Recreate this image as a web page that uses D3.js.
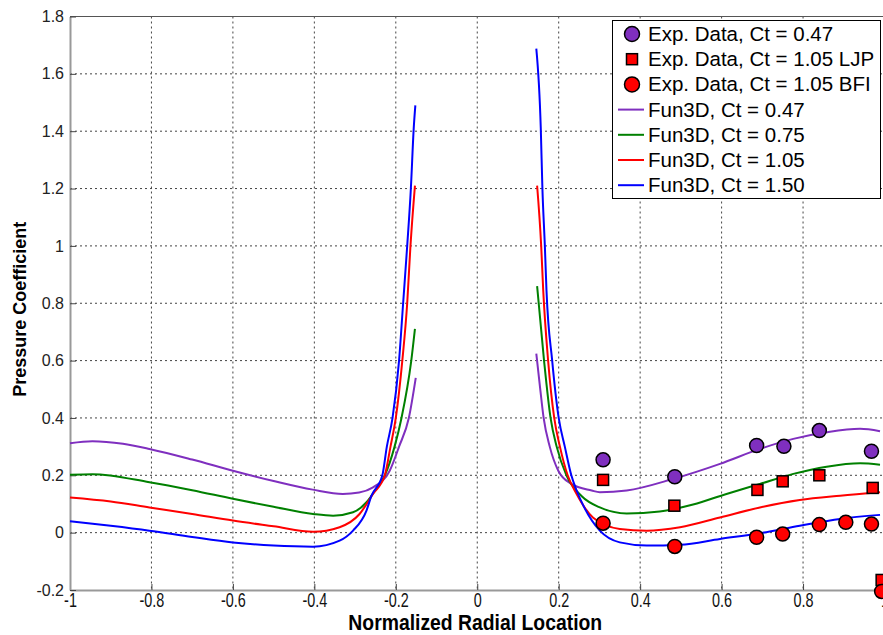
<!DOCTYPE html>
<html>
<head>
<meta charset="utf-8">
<script src="https://cdn.jsdelivr.net/npm/d3@7"></script>
<style>
  body { margin: 0; background: #fff; }
  svg text { font-family: "Liberation Sans", Arial, sans-serif; }
</style>
</head>
<body>
<div id="chart"></div>
<script>
// Fun3D curves (left and right of the hub)
var purpleLx = [-1, -0.945, -0.87, -0.805, -0.7, -0.6, -0.5, -0.404, -0.33, -0.29, -0.256, -0.215, -0.192, -0.168, -0.151];
var purpleLy = [0.312, 0.319, 0.31, 0.292, 0.255, 0.216, 0.18, 0.15, 0.135, 0.14, 0.158, 0.216, 0.3, 0.4, 0.54];
var greenLx = [-1, -0.945, -0.805, -0.7, -0.6, -0.5, -0.403, -0.354, -0.305, -0.272, -0.245, -0.227, -0.203, -0.186, -0.162, -0.153];
var greenLy = [0.202, 0.204, 0.176, 0.148, 0.118, 0.09, 0.065, 0.059, 0.071, 0.106, 0.16, 0.2, 0.3, 0.4, 0.6, 0.711];
var redLx = [-1, -0.9, -0.805, -0.7, -0.6, -0.5, -0.403, -0.338, -0.289, -0.256, -0.227, -0.213, -0.2, -0.184, -0.172, -0.164, -0.153];
var redLy = [0.123, 0.109, 0.088, 0.065, 0.042, 0.022, 0.003, 0.019, 0.065, 0.135, 0.2, 0.3, 0.4, 0.6, 0.8, 1.0, 1.21];
var blueLx = [-1, -0.9, -0.805, -0.7, -0.6, -0.5, -0.403, -0.338, -0.305, -0.272, -0.26, -0.233, -0.222, -0.208, -0.192, -0.182, -0.172, -0.163, -0.156, -0.152];
var blueLy = [0.04, 0.024, 0.007, -0.015, -0.034, -0.045, -0.049, -0.028, 0.007, 0.077, 0.128, 0.2, 0.3, 0.4, 0.6, 0.8, 1.0, 1.2, 1.41, 1.49];

var purpleRx = [0.145, 0.155, 0.163, 0.178, 0.199, 0.231, 0.281, 0.301, 0.367, 0.48, 0.596, 0.694, 0.776, 0.858, 0.94, 0.989];
var purpleRy = [0.624, 0.496, 0.4, 0.3, 0.216, 0.17, 0.147, 0.141, 0.147, 0.187, 0.24, 0.292, 0.327, 0.35, 0.362, 0.354];
var greenRx = [0.147, 0.164, 0.18, 0.195, 0.219, 0.256, 0.301, 0.367, 0.448, 0.53, 0.612, 0.694, 0.776, 0.858, 0.94, 0.989];
var greenRy = [0.86, 0.6, 0.4, 0.3, 0.2, 0.128, 0.088, 0.067, 0.074, 0.098, 0.135, 0.17, 0.205, 0.23, 0.242, 0.237];
var redRx = [0.147, 0.157, 0.162, 0.174, 0.189, 0.203, 0.222, 0.244, 0.284, 0.35, 0.416, 0.498, 0.596, 0.694, 0.792, 0.891, 0.989];
var redRy = [1.21, 1.0, 0.845, 0.6, 0.4, 0.3, 0.2, 0.135, 0.053, 0.013, 0.007, 0.019, 0.053, 0.088, 0.114, 0.129, 0.141];
var blueRx = [0.145, 0.156, 0.16, 0.166, 0.17, 0.184, 0.2, 0.215, 0.231, 0.244, 0.262, 0.301, 0.35, 0.416, 0.498, 0.596, 0.694, 0.792, 0.891, 0.989];
var blueRy = [1.688, 1.41, 1.2, 1.0, 0.845, 0.6, 0.4, 0.3, 0.2, 0.147, 0.09, 0.007, -0.034, -0.045, -0.042, -0.022, -0.002, 0.024, 0.048, 0.062];

// experimental points
var exp047x = [0.309, 0.485, 0.686, 0.753, 0.84, 0.968];
var exp047y = [0.254, 0.195, 0.304, 0.301, 0.356, 0.284];
var expLJPx = [0.309, 0.484, 0.688, 0.75, 0.84, 0.971, 0.993];
var expLJPy = [0.184, 0.094, 0.149, 0.179, 0.2, 0.156, -0.165];
var expBFIx = [0.309, 0.485, 0.686, 0.75, 0.84, 0.905, 0.968, 0.993];
var expBFIy = [0.033, -0.048, -0.016, -0.005, 0.028, 0.036, 0.03, -0.205];

var xTicks = [-1, -0.8, -0.6, -0.4, -0.2, 0, 0.2, 0.4, 0.6, 0.8, 1];
var yTicks = [-0.2, 0, 0.2, 0.4, 0.6, 0.8, 1, 1.2, 1.4, 1.6, 1.8];
var legendLabels = ["Exp. Data, Ct = 0.47", "Exp. Data, Ct = 1.05 LJP", "Exp. Data, Ct = 1.05 BFI",
  "Fun3D, Ct = 0.47", "Fun3D, Ct = 0.75", "Fun3D, Ct = 1.05", "Fun3D, Ct = 1.50"];

var purple = "#7f2fbf", green = "#008000", red = "#ff0000", blue = "#0000ff";

var W = 883, H = 635;
var mLeft = 70, mRight = 884.5, mTop = 16.5, mBottom = 590;

var svg = d3.select("#chart").append("svg")
  .attr("width", W).attr("height", H);

var x = d3.scaleLinear().domain([-1, 1]).range([mLeft, mRight]);
var y = d3.scaleLinear().domain([-0.2, 1.8]).range([mBottom, mTop]);

function fmt(d) { return String(+d.toFixed(1)); }

// grid
svg.append("g").selectAll("line")
  .data(xTicks.slice(1, -1)).enter().append("line")
  .attr("x1", function(d) { return x(d); }).attr("x2", function(d) { return x(d); })
  .attr("y1", mTop).attr("y2", mBottom)
  .attr("stroke", "#444").attr("stroke-width", 1).attr("stroke-dasharray", "2,3");
svg.append("g").selectAll("line")
  .data(yTicks.slice(1, -1)).enter().append("line")
  .attr("x1", mLeft).attr("x2", mRight)
  .attr("y1", function(d) { return y(d); }).attr("y2", function(d) { return y(d); })
  .attr("stroke", "#444").attr("stroke-width", 1).attr("stroke-dasharray", "2,3");

// frame
svg.append("line").attr("x1", mLeft).attr("x2", mRight).attr("y1", mTop).attr("y2", mTop)
  .attr("stroke", "#555").attr("stroke-width", 1);

// axes
var xAxis = svg.append("g")
  .attr("transform", "translate(0," + mBottom + ")")
  .call(d3.axisBottom(x).tickValues(xTicks).tickSizeInner(-6).tickSizeOuter(0).tickFormat(fmt));
xAxis.select(".domain").attr("stroke", "#999").attr("stroke-width", 2);
xAxis.selectAll(".tick line").attr("stroke", "#444");
xAxis.selectAll(".tick text")
  .attr("y", 3).attr("dy", "0.71em")
  .attr("transform", "scale(0.72,1)")
  .style("font-size", "20px").attr("fill", "#111");

var yAxis = svg.append("g")
  .attr("transform", "translate(" + mLeft + ",0)")
  .call(d3.axisLeft(y).tickValues(yTicks).tickSizeInner(-6).tickSizeOuter(0).tickFormat(fmt));
yAxis.select(".domain").attr("stroke", "#999").attr("stroke-width", 2);
yAxis.selectAll(".tick line").attr("stroke", "#444");
yAxis.selectAll(".tick text").attr("x", -6)
  .style("font-size", "16px").attr("fill", "#222");

// axis titles
svg.append("g")
  .attr("transform", "translate(" + ((mLeft + mRight) / 2 - 2) + ",630) scale(0.88,1)")
  .append("text")
  .attr("text-anchor", "middle")
  .style("font-size", "22px").style("font-weight", "bold")
  .text("Normalized Radial Location");
svg.append("text")
  .attr("transform", "translate(26," + ((mTop + mBottom) / 2 + 6) + ") rotate(-90)")
  .attr("text-anchor", "middle")
  .style("font-size", "18px").style("font-weight", "bold")
  .text("Pressure Coefficient");

// curves
var line = d3.line()
  .x(function(d) { return x(d[0]); })
  .y(function(d) { return y(d[1]); })
  .curve(d3.curveMonotoneX);

function drawCurve(xs, ys, color) {
  svg.append("path")
    .datum(d3.zip(xs, ys))
    .attr("d", line)
    .attr("fill", "none").attr("stroke", color).attr("stroke-width", 2);
}
drawCurve(purpleLx, purpleLy, purple);
drawCurve(greenLx, greenLy, green);
drawCurve(redLx, redLy, red);
drawCurve(blueLx, blueLy, blue);
drawCurve(purpleRx, purpleRy, purple);
drawCurve(greenRx, greenRy, green);
drawCurve(redRx, redRy, red);
drawCurve(blueRx, blueRy, blue);

// markers
function drawCircles(xs, ys, color) {
  svg.append("g").selectAll("circle")
    .data(d3.zip(xs, ys)).enter().append("circle")
    .attr("cx", function(d) { return x(d[0]); })
    .attr("cy", function(d) { return y(d[1]); })
    .attr("r", 7)
    .attr("fill", color).attr("stroke", "#000").attr("stroke-width", 1.5);
}
drawCircles(exp047x, exp047y, purple);
svg.append("g").selectAll("rect")
  .data(d3.zip(expLJPx, expLJPy)).enter().append("rect")
  .attr("x", function(d) { return x(d[0]) - 5.5; })
  .attr("y", function(d) { return y(d[1]) - 5.5; })
  .attr("width", 11).attr("height", 11)
  .attr("fill", red).attr("stroke", "#000").attr("stroke-width", 1.5);
drawCircles(expBFIx, expBFIy, red);

// legend
var lg = svg.append("g");
lg.append("rect").attr("x", 612.5).attr("y", 20.5).attr("width", 268).attr("height", 178)
  .attr("fill", "#fff").attr("stroke", "#000").attr("stroke-width", 1);
var rowY = function(i) { return 34 + i * 25.2; };
lg.append("circle").attr("cx", 632).attr("cy", rowY(0)).attr("r", 7.5)
  .attr("fill", purple).attr("stroke", "#000").attr("stroke-width", 1.5);
lg.append("rect").attr("x", 626.5).attr("y", rowY(1) - 5.5).attr("width", 11).attr("height", 11)
  .attr("fill", red).attr("stroke", "#000").attr("stroke-width", 1.5);
lg.append("circle").attr("cx", 632).attr("cy", rowY(2)).attr("r", 7.5)
  .attr("fill", red).attr("stroke", "#000").attr("stroke-width", 1.5);
[purple, green, red, blue].forEach(function(c, i) {
  lg.append("line").attr("x1", 618).attr("x2", 644)
    .attr("y1", rowY(i + 3)).attr("y2", rowY(i + 3))
    .attr("stroke", c).attr("stroke-width", 2);
});
lg.selectAll("text.lab").data(legendLabels).enter().append("text")
  .attr("class", "lab")
  .attr("x", 648).attr("y", function(d, i) { return rowY(i) + 7; })
  .style("font-size", "20.5px").attr("fill", "#000")
  .text(function(d) { return d; });
</script>
</body>
</html>
